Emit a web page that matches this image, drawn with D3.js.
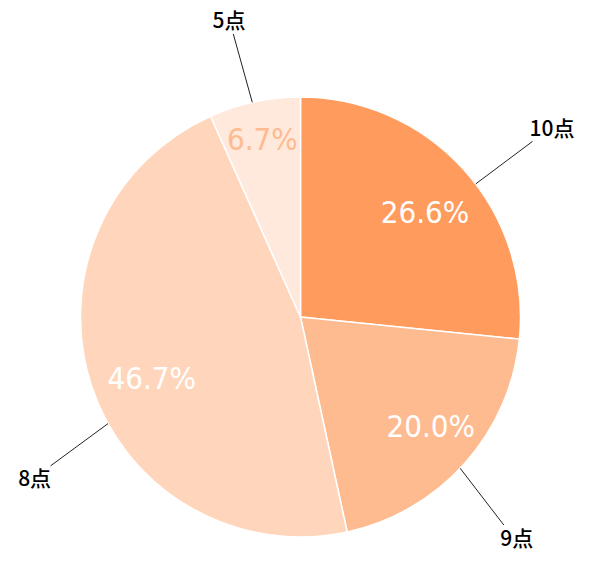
<!DOCTYPE html>
<html>
<head>
<meta charset="utf-8">
<script src="https://cdn.jsdelivr.net/npm/d3@7"></script>
<style>
  body { margin: 0; background: #fff; }
</style>
</head>
<body>
<svg width="600" height="563"></svg>
<script>
// chart data
var categories = ["10点", "9点", "8点", "5点"];
var shares = [26.6, 20.0, 46.7, 6.7];
var pctLabels = ["26.6%", "20.0%", "46.7%", "6.7%"];
var colors = ["#ff9b5d", "#ffbb90", "#ffd6bc", "#ffe8dc"];
var pctColors = ["#ffffff", "#ffffff", "#ffffff", "#ffbb90"];

var svg = d3.select("svg"),
    width = +svg.attr("width"),
    height = +svg.attr("height"),
    cx = 300.5, cy = 317, radius = 220;

var g = svg.append("g")
    .attr("transform", "translate(" + cx + "," + cy + ")");

var rows = categories.map(function(c, i) {
    return {cat: c, value: shares[i], pct: pctLabels[i], color: colors[i], tcolor: pctColors[i]};
});

var pie = d3.pie()
    .sort(null)
    .value(function(d) { return d.value; });

var arcs = pie(rows);

var arc = d3.arc().innerRadius(0).outerRadius(radius);

g.selectAll("path.slice")
    .data(arcs)
    .enter().append("path")
    .attr("class", "slice")
    .attr("d", arc)
    .attr("fill", function(d) { return d.data.color; })
    .attr("stroke", "#fff")
    .attr("stroke-width", 1.5)
    .attr("stroke-linejoin", "round");

// label radius as fraction of radius (small slice sits further out)
var pctRadius = [0.74, 0.77, 0.73, 0.83];
var pctNudge = [2, -2, -4, 0]; // degrees

g.selectAll("text.pct")
    .data(arcs)
    .enter().append("text")
    .attr("class", "pct")
    .attr("transform", function(d, i) {
        var a = (d.startAngle + d.endAngle) / 2 + pctNudge[i] * Math.PI / 180;
        var r = radius * pctRadius[i];
        return "translate(" + (Math.sin(a) * r) + "," + (-Math.cos(a) * r) + ")";
    })
    .attr("text-anchor", "middle")
    .attr("dy", "0.36em")
    .attr("font-family", "'DejaVu Sans Condensed', 'DejaVu Sans', sans-serif")
    .attr("font-size", 31)
    .attr("fill", function(d) { return d.data.tcolor; })
    .text(function(d) { return d.data.pct; });

// leader lines: start on the rim, end further out (angles nudged off mid-slice)
var startNudge = [4.9, 1.7, -10.8, -0.6]; // degrees
var endNudge = [5.0, 3.9, -12.6, -1.3];
var outerR = radius + 71;

function rad(d, nudge) {
    return (d.startAngle + d.endAngle) / 2 + nudge * Math.PI / 180;
}

var leaders = arcs.map(function(d, i) {
    var a0 = rad(d, startNudge[i]), a1 = rad(d, endNudge[i]);
    return {
        d: d, a: a1,
        x1: Math.sin(a0) * radius, y1: -Math.cos(a0) * radius,
        x2: Math.sin(a1) * outerR, y2: -Math.cos(a1) * outerR
    };
});

g.selectAll("line.leader")
    .data(leaders)
    .enter().append("line")
    .attr("class", "leader")
    .attr("x1", function(l) { return l.x1; })
    .attr("y1", function(l) { return l.y1; })
    .attr("x2", function(l) { return l.x2; })
    .attr("y2", function(l) { return l.y2; })
    .attr("stroke", "#222")
    .attr("stroke-width", 1);

var cats = g.selectAll("text.cat")
    .data(leaders)
    .enter().append("text")
    .attr("class", "cat")
    .attr("text-anchor", "middle")
    .attr("dy", "0.36em")
    .attr("font-family", "'Noto Sans CJK JP', 'Noto Sans', sans-serif")
    .attr("font-size", 21)
    .attr("font-weight", 500)
    .attr("fill", "#000")
    .text(function(l) { return l.d.data.cat; });

cats.attr("x", function(l) {
        var w = this.getComputedTextLength();
        return l.x2 + Math.sin(l.a) * (w / 2 + 2);
    })
    .attr("y", function(l) {
        return l.y2 + (Math.cos(l.a) > 0 ? -13 : 13);
    });
</script>
</body>
</html>
